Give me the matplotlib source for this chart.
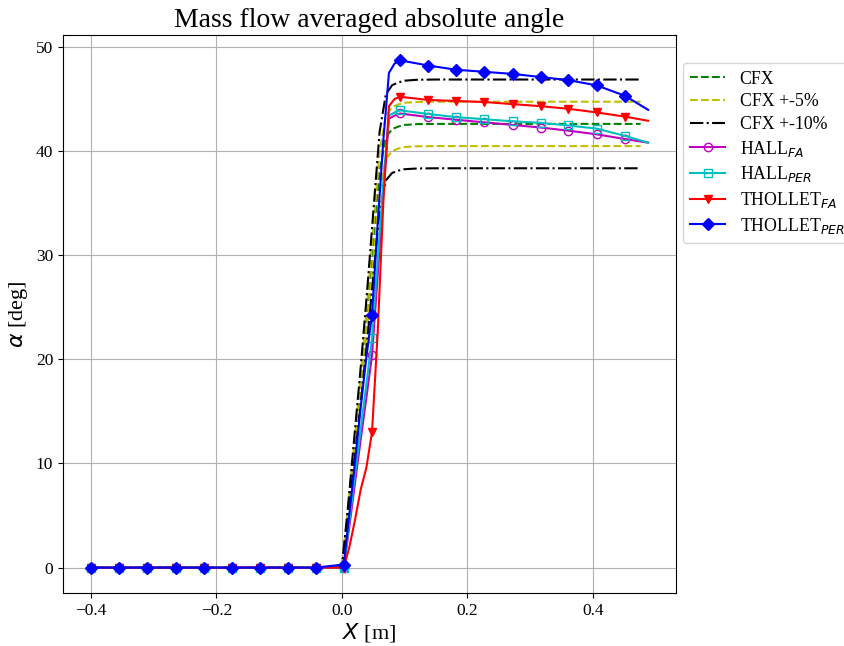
import matplotlib
matplotlib.use("Agg")
import matplotlib.pyplot as plt
import numpy as np

plt.rcParams['font.family'] = ['Liberation Serif', 'DejaVu Serif']
plt.rcParams['mathtext.fontset'] = 'dejavusans'

# CFX simulation
x_cfx = [-0.4, -0.2, -0.05, 0.0, 0.01, 0.02, 0.03, 0.04, 0.05, 0.06, 0.07, 0.08,
         0.09, 0.10, 0.12, 0.15, 0.20, 0.30, 0.40, 0.476]
cfx = [0.0, 0.0, 0.0, 0.0, 5.5, 11.5, 17.5, 24.0, 31.0, 38.0, 41.3, 42.1,
       42.35, 42.5, 42.58, 42.6, 42.6, 42.6, 42.6, 42.6]

# Experimental / model series
x_exp = [-0.400, -0.355, -0.310, -0.265, -0.220, -0.175, -0.131, -0.086, -0.042,
         0.003, 0.012, 0.021, 0.030, 0.039, 0.048, 0.057, 0.066, 0.075, 0.084,
         0.093, 0.138, 0.182, 0.227, 0.272, 0.317, 0.361, 0.406, 0.451, 0.488]
hall_fa = [0, 0, 0, 0, 0, 0, 0, 0, 0,
           0.0, 4.0, 8.2, 12.3, 16.3, 20.4, 28.0, 36.0, 43.1, 43.4,
           43.6, 43.25, 43.0, 42.75, 42.5, 42.25, 41.95, 41.6, 41.15, 40.8]
hall_per = [0, 0, 0, 0, 0, 0, 0, 0, 0,
            0.0, 4.5, 9.0, 13.3, 17.6, 22.0, 29.5, 37.0, 43.4, 43.7,
            43.9, 43.55, 43.25, 43.05, 42.85, 42.7, 42.45, 42.15, 41.45, 40.8]
thollet_fa = [0, 0, 0, 0, 0, 0, 0, 0, 0,
              0.0, 2.0, 4.6, 7.5, 9.6, 13.0, 22.5, 35.0, 44.3, 45.0,
              45.2, 44.9, 44.8, 44.7, 44.5, 44.3, 44.05, 43.7, 43.3, 42.9]
thollet_per = [0, 0, 0, 0, 0, 0, 0, 0, 0,
               0.3, 5.2, 10.2, 15.4, 20.2, 24.3, 33.0, 41.0, 47.5, 48.4,
               48.7, 48.2, 47.8, 47.6, 47.4, 47.1, 46.8, 46.3, 45.3, 43.95]
mark_idx = list(range(0, 10)) + [14] + list(range(19, 28))

fig = plt.figure(figsize=(8.45, 6.46), dpi=100)
ax = fig.add_axes([63 / 845, 1 - 593 / 646, 613 / 845, 558 / 646])

cfx_a = np.array(cfx)
ax.plot(x_cfx, cfx_a, 'g--', lw=1.5, label='CFX')
ax.plot(x_cfx, cfx_a * 1.05, 'y--', lw=1.5, label='CFX +-5%')
ax.plot(x_cfx, cfx_a * 0.95, 'y--', lw=1.5)
ax.plot(x_cfx, cfx_a * 1.10, 'k-.', lw=1.5, label='CFX +-10%')
ax.plot(x_cfx, cfx_a * 0.90, 'k-.', lw=1.5)

ax.plot(x_exp, hall_fa, color='m', marker='o', mfc='none', lw=1.5,
        markevery=mark_idx, label='HALL$_{FA}$')
ax.plot(x_exp, hall_per, color='c', marker='s', mfc='none', lw=1.5,
        markevery=mark_idx, label='HALL$_{PER}$')
ax.plot(x_exp, thollet_fa, color='r', marker='v', lw=1.5,
        markevery=mark_idx, label='THOLLET$_{FA}$')
ax.plot(x_exp, thollet_per, color='b', marker='D', lw=1.5,
        markevery=mark_idx, label='THOLLET$_{PER}$')

ax.set_xticks([-0.4, -0.2, 0.0, 0.2, 0.4])
ax.set_yticks([0, 10, 20, 30, 40, 50])
ax.tick_params(labelsize=12.5)
ax.grid(True, color='#b0b0b0', lw=0.8)
ax.set_title('Mass flow averaged absolute angle', fontsize=20)
ax.set_xlabel('$X$ [m]', fontsize=16, labelpad=2)
ax.set_ylabel(r'$\alpha$ [deg]', fontsize=16)
ax.legend(loc='upper left', bbox_to_anchor=(1.011, 0.949), borderaxespad=0,
          fontsize=12.8, labelspacing=0.32)

fig.savefig('out.png', dpi=100)
